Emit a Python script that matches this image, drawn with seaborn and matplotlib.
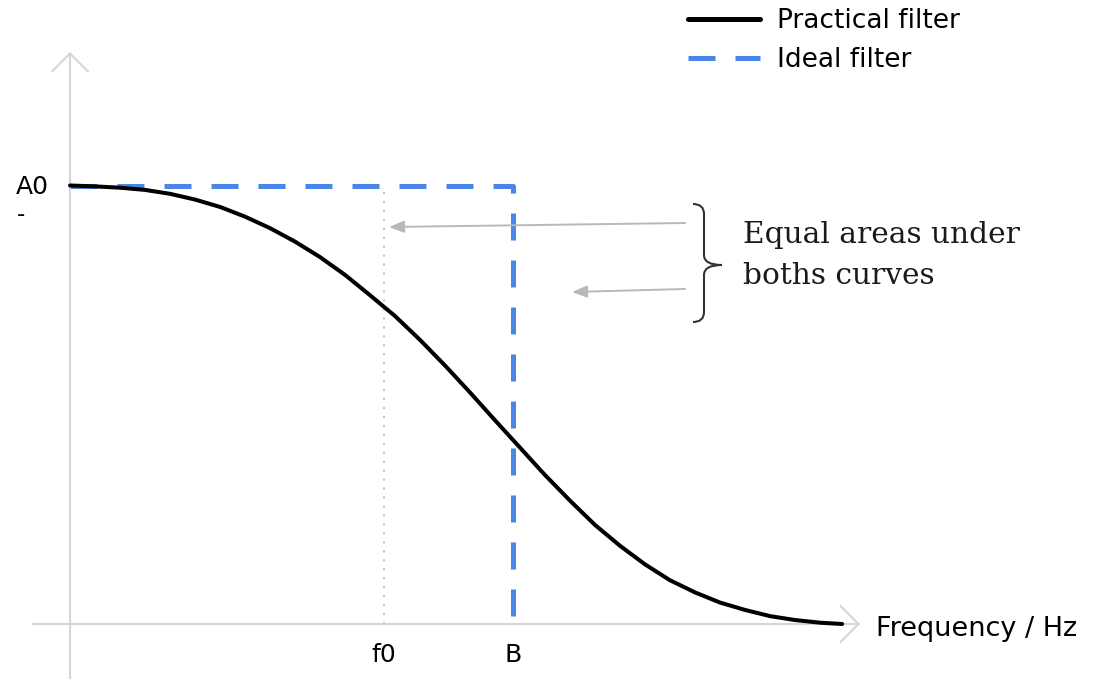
import numpy as np
import pandas as pd
import seaborn as sns
import matplotlib.pyplot as plt
from matplotlib.lines import Line2D
from matplotlib.path import Path
from matplotlib.patches import PathPatch
from matplotlib.transforms import Affine2D

# ---- values -------------------------------------------------------------
A0 = 1.0            # pass-band gain
B = 1.0             # ideal filter cut-off
f0 = 0.709          # frequency marked on the practical curve

# practical (roll-off) filter response
freq = [0.0, 0.056, 0.113, 0.169, 0.226, 0.282, 0.339, 0.395, 0.451, 0.508,
        0.564, 0.621, 0.677, 0.734, 0.790, 0.847, 0.903, 0.959, 1.016, 1.072,
        1.129, 1.185, 1.242, 1.298, 1.354, 1.411, 1.467, 1.524, 1.580, 1.637,
        1.693, 1.743]
gain = [1.000, 0.998, 0.995, 0.990, 0.981, 0.968, 0.951, 0.929, 0.903, 0.872,
        0.837, 0.796, 0.750, 0.702, 0.648, 0.589, 0.528, 0.465, 0.402, 0.340,
        0.281, 0.226, 0.178, 0.136, 0.100, 0.072, 0.049, 0.032, 0.018, 0.009,
        0.003, 0.000]

# ideal (brick-wall) filter response
ideal_freq = [0.0, B, B]
ideal_gain = [A0, A0, 0.0]

series_labels = ["Practical filter", "Ideal filter"]
tick_labels = ["f0", "B"]
y_label = "A0"
x_title = "Frequency / Hz"
note_lines = ["Equal areas under", "boths curves"]

# ---- style --------------------------------------------------------------
sns.set_theme(style="white")
plt.rcParams["font.family"] = ["DejaVu Sans"]

W, H = 1095, 679
BLUE = "#4a86e8"
AXIS_GREY = "#d6d6d6"
ARROW_GREY = "#b8b8b8"

fig = plt.figure(figsize=(W / 100, H / 100), dpi=100)
ax = fig.add_axes([0, 0, 1, 1])
ax.set_xlim(-70 / 443, (W - 70) / 443)
ax.set_ylim(-55 / 438.5, 624 / 438.5)
ax.axis("off")

# pixel coordinates measured from the top-left corner
px = Affine2D().scale(1, -1).translate(0, H)

# ---- axes with open arrow heads ----------------------------------------
axis_style = dict(arrowstyle="->,head_length=0.65,head_width=0.65",
                  color=AXIS_GREY, lw=1.5, shrinkA=0, shrinkB=0,
                  mutation_scale=20)
ax.annotate("", xy=(70, 52), xytext=(70, 679), xycoords=px, textcoords=px,
            arrowprops=axis_style)
ax.annotate("", xy=(860, 624), xytext=(33, 624), xycoords=px, textcoords=px,
            arrowprops=axis_style)

# ---- filter responses ---------------------------------------------------
ideal_df = pd.DataFrame({"freq": ideal_freq, "gain": ideal_gain})
prac_df = pd.DataFrame({"freq": freq, "gain": gain})

ax.plot([f0, f0], [0, A0], color="#c4c4c4", lw=1.5,
        linestyle=(0, (1, 3.3)), zorder=1)

sns.lineplot(data=ideal_df, x="freq", y="gain", ax=ax, sort=False,
             estimator=None, color=BLUE, lw=3.6, linestyle=(0, (5.4, 4)),
             dash_joinstyle="round", legend=False, zorder=2)
sns.lineplot(data=prac_df, x="freq", y="gain", ax=ax, sort=False,
             estimator=None, color="black", lw=2.9, legend=False,
             solid_capstyle="round", solid_joinstyle="round", zorder=3)

# ---- labels -------------------------------------------------------------
xt = ax.get_xaxis_transform()
for pos, lab in zip([f0, B], tick_labels):
    ax.text(pos, (H - 662) / H, lab, transform=xt, ha="center",
            va="baseline", fontsize=18, color="black")
ax.text(16, 194, y_label, transform=px, ha="left", va="baseline",
        fontsize=18, color="black")
ax.text(17, 221, "-", transform=px, ha="left", va="baseline",
        fontsize=16.5, color="black")
ax.text(876, 636, x_title, transform=px, ha="left", va="baseline",
        fontsize=19.5, color="black")

# ---- equal-area annotation ---------------------------------------------
arrow_style = dict(arrowstyle="-|>,head_length=0.45,head_width=0.18",
                   color=ARROW_GREY, lw=1.4, shrinkA=0, shrinkB=0,
                   mutation_scale=20)
ax.annotate("", xy=(389, 227), xytext=(685, 223), xycoords=px,
            textcoords=px, arrowprops=arrow_style)
ax.annotate("", xy=(572, 292), xytext=(685, 289), xycoords=px,
            textcoords=px, arrowprops=arrow_style)

brace_verts = [(693, 204), (704, 204), (704, 214),
               (704, 255),
               (704, 265), (722, 265),
               (704, 265), (704, 275),
               (704, 312),
               (704, 322), (693, 322)]
brace_codes = [Path.MOVETO, Path.CURVE3, Path.CURVE3,
               Path.LINETO,
               Path.CURVE3, Path.CURVE3,
               Path.CURVE3, Path.CURVE3,
               Path.LINETO,
               Path.CURVE3, Path.CURVE3]
ax.add_patch(PathPatch(Path(brace_verts, brace_codes), transform=px,
                       fill=False, edgecolor="#333333", lw=1.5))

for text, base in zip(note_lines, [243, 284]):
    ax.text(743, base, text, transform=px, ha="left", va="baseline",
            fontsize=21.3, family="DejaVu Serif", color="#1a1a1a")

# ---- legend -------------------------------------------------------------
handles = [Line2D([], [], color="black", lw=3.6),
           Line2D([], [], color=BLUE, lw=3.6, linestyle=(0, (5.4, 4)))]
fig.legend(handles, series_labels, loc="upper left",
           bbox_to_anchor=(688 / W, 1 - 8 / H), frameon=False,
           fontsize=19, handlelength=2.73, handletextpad=0.64,
           labelspacing=0.5, borderpad=0, borderaxespad=0,
           labelcolor="black")

fig.savefig("out.png", dpi=100)
